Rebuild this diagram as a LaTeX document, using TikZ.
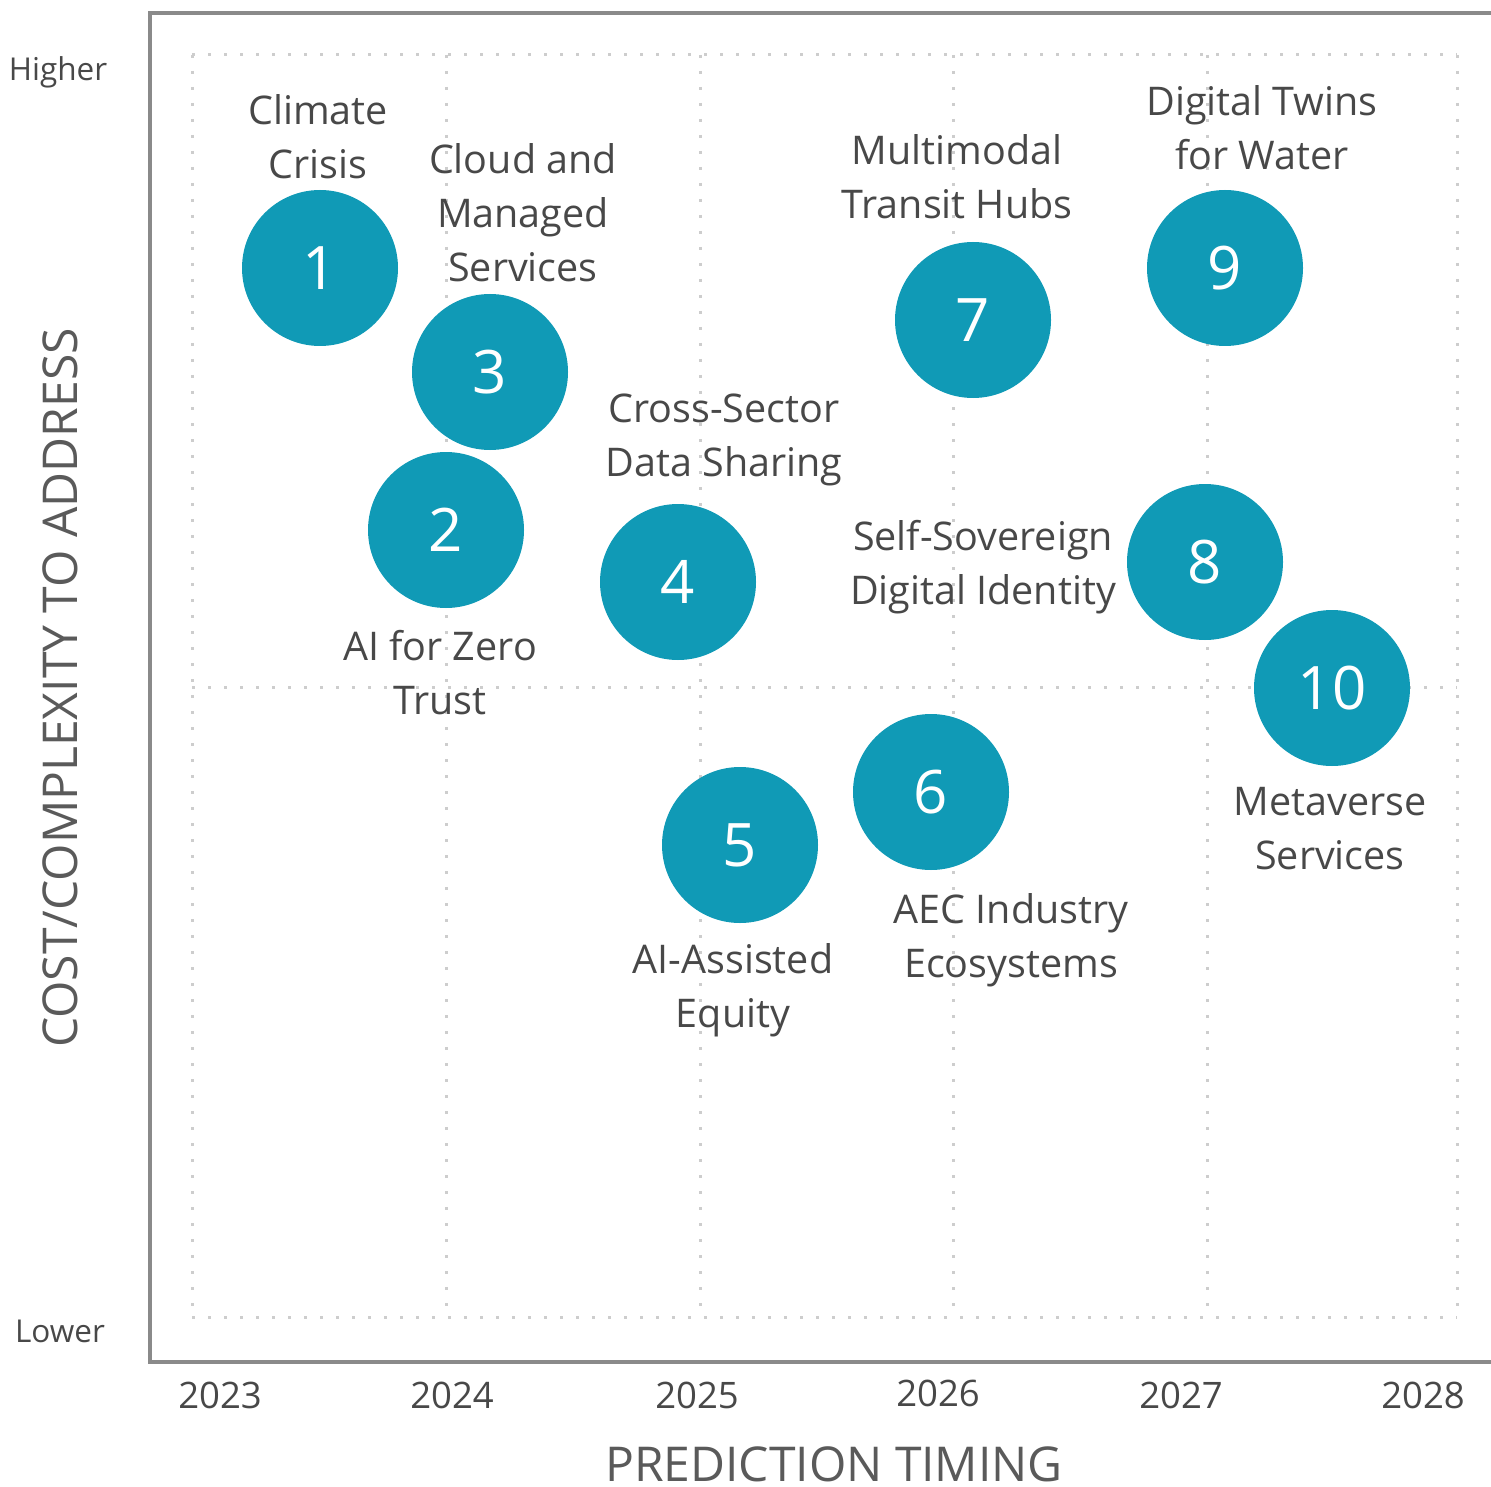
\documentclass[tikz,border=0pt]{standalone}
\usepackage{fontspec}
\setmainfont{Open Sans}
\definecolor{teal}{RGB}{16,154,182}
\definecolor{framegray}{RGB}{138,138,138}
\definecolor{gridgray}{RGB}{205,205,205}
\definecolor{txt}{RGB}{72,72,72}
\begin{document}
\begin{tikzpicture}[x=1pt,y=-1pt,
  bubble/.style={circle,fill=teal,minimum size=156pt,inner sep=0pt,text=white,font=\fontsize{60}{60}\selectfont},
  lbl/.style={align=center,text=txt,font=\fontsize{39.5}{54}\selectfont,inner sep=0pt},
  yr/.style={text=txt,font=\fontsize{36.5}{36.5}\selectfont,inner sep=0pt},
  gridln/.style={gridgray,line width=3pt,dash pattern=on 3pt off 13pt},
  axisttl/.style={text=txt!90,font=\fontsize{48}{48}\selectfont,inner sep=0pt}]
\useasboundingbox (0,0) rectangle (1491,1487);
% grid
\foreach \x in {192,446,700,953,1207,1457}
  \draw[gridln] (\x,55) -- (\x,1317);
\foreach \y in {55,687,1317}
  \draw[gridln] (192,\y) -- (1457,\y);
% frame
\draw[framegray,line width=4pt] (1491,13) -- (150,13) -- (150,1362) -- (1491,1362);
% axis labels
\node[text=txt,font=\fontsize{31.5}{31.5}\selectfont,inner sep=0pt] (hi) at (58,72) {Higher};
\node[text=txt,font=\fontsize{31.5}{31.5}\selectfont,inner sep=0pt] (lo) at (60,1331) {Lower};
\node[yr] (y23) at (220,1395) {2023};
\node[yr] (y24) at (452,1395) {2024};
\node[yr] (y25) at (697,1395) {2025};
\node[yr] (y26) at (938,1393) {2026};
\node[yr] (y27) at (1181,1395) {2027};
\node[yr] (y28) at (1423,1395) {2028};
\node[axisttl] (xt) at (834,1464) {PREDICTION TIMING};
\node[axisttl,rotate=90] (yt) at (60,688) {COST/COMPLEXITY TO ADDRESS};
% bubbles
\node[bubble] (b1) at (320,268) {1};
\node[bubble] (b3) at (490,372) {3};
\node[bubble] (b2) at (446,530) {2};
\node[bubble] (b4) at (678,582) {4};
\node[bubble] (b7) at (973,320) {7};
\node[bubble] (b9) at (1225,268) {9};
\node[bubble] (b8) at (1205,562) {8};
\node[bubble] (b10) at (1332,688) {10};
\node[bubble] (b6) at (931,792) {6};
\node[bubble] (b5) at (740,845) {5};
% labels
\node[lbl] (l1) at (318,137) {Climate\\Crisis};
\node[lbl] (l3) at (523,213) {Cloud and\\Managed\\Services};
\node[lbl] (l7) at (957,177) {Multimodal\\Transit Hubs};
\node[lbl] (l9) at (1262,128) {Digital Twins\\for Water};
\node[lbl] (l4) at (724,440) {Cross-Sector\\Data Sharing};
\node[lbl] (l8) at (983,567) {Self-Sovereign\\Digital Identity};
\node[lbl] (l2) at (440,673) {AI for Zero\\Trust};
\node[lbl] (l10) at (1330,829) {Metaverse\\Services};
\node[lbl] (l6) at (1011,940) {AEC Industry\\Ecosystems};
\node[lbl] (l5) at (733,990) {AI-Assisted\\Equity};
\end{tikzpicture}
\end{document}
